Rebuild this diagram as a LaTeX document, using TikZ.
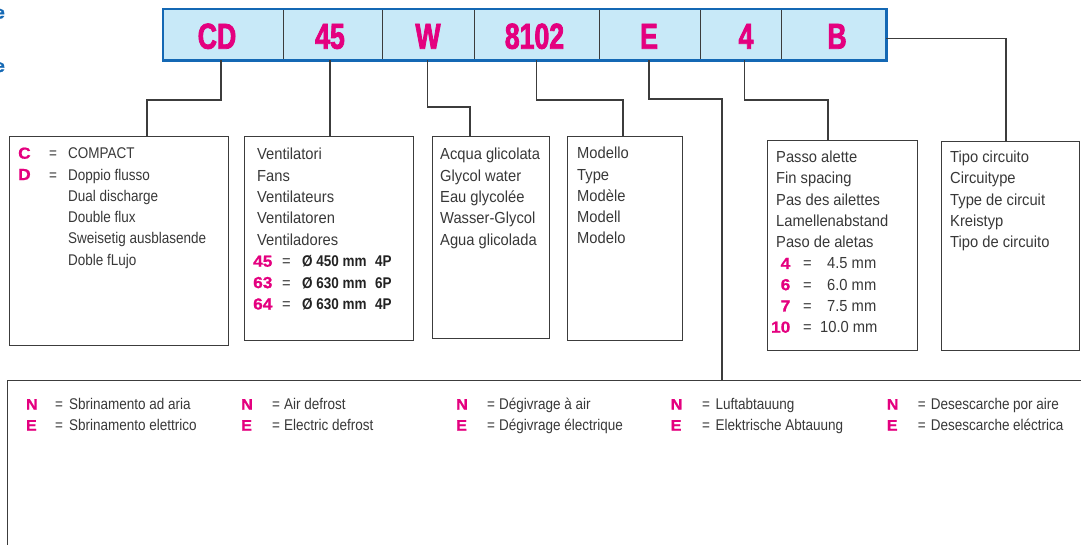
\documentclass[tikz,border=0pt]{standalone}
\usepackage{fontspec}
\setmainfont{Liberation Sans}
\newfontfamily\tfA[FakeStretch=0.92]{Liberation Sans}
\newfontfamily\tfB[FakeStretch=0.87]{Liberation Sans}
\newfontfamily\barfnt[FakeStretch=0.74,FakeBold=2.2]{Liberation Sans}
\newfontfamily\pkfnt[FakeStretch=1.08,FakeBold=1]{Liberation Sans}
\newfontfamily\fragfnt[FakeBold=1.5]{Liberation Sans}
\definecolor{pinkc}{HTML}{E4007F}
\definecolor{barfill}{HTML}{C8E9F8}
\definecolor{barblue}{HTML}{1468B4}
\definecolor{txt}{HTML}{383838}
\definecolor{spec}{HTML}{222222}
\definecolor{ln}{HTML}{3C3C3C}
\begin{document}
\begin{tikzpicture}[x=1pt,y=-1pt,
  cell/.style={draw=ln, line width=1.4pt, fill=barfill, anchor=north west, minimum height=50, inner sep=0, rectangle},
  barframe/.style={draw=barblue, line width=2.6pt},
  bartxt/.style={anchor=base, inner sep=0, text=pinkc, font=\barfnt\bfseries\fontsize{36}{36}\selectfont},
  box/.style={draw=ln, line width=1.4pt, rectangle, inner sep=0, anchor=north west},
  conn/.style={draw=ln, line width=1.2pt},
  ta/.style={anchor=base west, inner sep=0, text=txt, font=\tfA\fontsize{16}{16}\selectfont},
  tb/.style={anchor=base west, inner sep=0, text=txt, font=\tfB\fontsize{15.5}{16}\selectfont},
  sp/.style={anchor=base west, inner sep=0, text=spec, font=\tfB\bfseries\fontsize{15.5}{16}\selectfont},
  pk/.style={anchor=base west, inner sep=0, text=pinkc, font=\pkfnt\bfseries\fontsize{16}{16}\selectfont},
  pkr/.style={pk, anchor=base east},
  pkb/.style={pk, font=\pkfnt\bfseries\fontsize{15}{16}\selectfont},
  frag/.style={anchor=base east, inner sep=0, text=barblue, font=\fragfnt\bfseries\fontsize{18}{18}\selectfont}]
\useasboundingbox (0,0) rectangle (1081,544);

% cut-off fragments at the left edge
\node[frag] (f1) at (5,18.5) {e};
\node[frag] (f2) at (5,72) {e};

% code bar
\node[cell, minimum width=120] (cCD) at (163,9) {};
\node[cell, minimum width=99] (c45) at (283,9) {};
\node[cell, minimum width=92] (cW) at (382,9) {};
\node[cell, minimum width=125] (c8102) at (474,9) {};
\node[cell, minimum width=101] (cE) at (599,9) {};
\node[cell, minimum width=81] (c4) at (700,9) {};
\node[cell, minimum width=104] (cB) at (781,9) {};
\draw[barframe] (cCD.north west) rectangle (cB.south east);
\node[bartxt] (tCD) at (217,48.7) {CD};
\node[bartxt] (t45) at (330,48.7) {45};
\node[bartxt] (tW) at (428,48.7) {W};
\node[bartxt] (t8102) at (534.5,48.7) {8102};
\node[bartxt] (tE) at (649,48.7) {E};
\node[bartxt] (t4) at (746,48.7) {4};
\node[bartxt] (tB) at (837,48.7) {B};

% boxes
\node[box, minimum width=219, minimum height=209] (b1) at (9,136) {};
\node[box, minimum width=169, minimum height=204] (b2) at (244,136) {};
\node[box, minimum width=117, minimum height=202] (b3) at (432,136) {};
\node[box, minimum width=115, minimum height=204] (b4) at (567,136) {};
\node[box, minimum width=150, minimum height=210] (b5) at (767,140) {};
\node[box, minimum width=138, minimum height=209] (b6) at (941,141) {};
\node[box, minimum width=1100, minimum height=200] (b7) at (7,380) {};

% connectors
\coordinate (xCD) at (221,0);
\coordinate (eCD) at (147,100);
\coordinate (x45) at (330,0);
\coordinate (xW) at (427.5,0);
\coordinate (eW) at (470,107);
\coordinate (x81) at (536.7,0);
\coordinate (e81) at (623,100);
\coordinate (xE) at (649,0);
\coordinate (eE) at (722,99);
\coordinate (x4) at (744.7,0);
\coordinate (e4) at (828,100);
\coordinate (xB) at (1006,0);
\draw[conn] (cCD.south -| xCD) |- (eCD) -- (b1.north -| eCD);
\draw[conn] (c45.south -| x45) -- (b2.north -| x45);
\draw[conn] (cW.south -| xW) |- (eW) -- (b3.north -| eW);
\draw[conn] (c8102.south -| x81) |- (e81) -- (b4.north -| e81);
\draw[conn] (cE.south -| xE) |- (eE) -- (b7.north -| eE);
\draw[conn] (c4.south -| x4) |- (e4) -- (b5.north -| e4);
\draw[conn] ([yshift=-3.5pt]cB.east) -| (b6.north -| xB);

% box 1
\node[pk] (p1c) at (18,158.7) {C};
\node[tb] (q1c) at (49,158.7) {=};
\node[tb] (s1a) at (68,158.7) {COMPACT};
\node[pk] (p1d) at (18,180.0) {D};
\node[tb] (q1d) at (49,180.0) {=};
\node[tb] (s1b) at (68,180.0) {Doppio flusso};
\node[tb] (s1c) at (68,201.3) {Dual discharge};
\node[tb] (s1d) at (68,222.6) {Double flux};
\node[tb] (s1e) at (68,243.9) {Sweisetig ausblasende};
\node[tb] (s1f) at (68,265.2) {Doble fLujo};

% box 2
\node[ta] (s2a) at (257,159.7) {Ventilatori};
\node[ta] (s2b) at (257,181.1) {Fans};
\node[ta] (s2c) at (257,202.5) {Ventilateurs};
\node[ta] (s2d) at (257,223.9) {Ventilatoren};
\node[ta] (s2e) at (257,245.3) {Ventiladores};
\node[pk] (p2a) at (253,266.7) {45};
\node[ta] (q2a) at (282,266.7) {=};
\node[sp] (v2a) at (302,266.7) {Ø 450 mm};
\node[sp] (w2a) at (375,266.7) {4P};
\node[pk] (p2b) at (253,288.1) {63};
\node[ta] (q2b) at (282,288.1) {=};
\node[sp] (v2b) at (302,288.1) {Ø 630 mm};
\node[sp] (w2b) at (375,288.1) {6P};
\node[pk] (p2c) at (253,309.5) {64};
\node[ta] (q2c) at (282,309.5) {=};
\node[sp] (v2c) at (302,309.5) {Ø 630 mm};
\node[sp] (w2c) at (375,309.5) {4P};

% box 3
\node[ta] (s3a) at (440,159.7) {Acqua glicolata};
\node[ta] (s3b) at (440,181.1) {Glycol water};
\node[ta] (s3c) at (440,202.5) {Eau glycolée};
\node[ta] (s3d) at (440,223.9) {Wasser-Glycol};
\node[ta] (s3e) at (440,245.3) {Agua glicolada};

% box 4
\node[ta] (s4a) at (577,158.7) {Modello};
\node[ta] (s4b) at (577,180.0) {Type};
\node[ta] (s4c) at (577,201.3) {Modèle};
\node[ta] (s4d) at (577,222.6) {Modell};
\node[ta] (s4e) at (577,243.9) {Modelo};

% box 5
\node[ta] (s5a) at (776,162.7) {Passo alette};
\node[ta] (s5b) at (776,183.95) {Fin spacing};
\node[ta] (s5c) at (776,205.2) {Pas des ailettes};
\node[ta] (s5d) at (776,226.45) {Lamellenabstand};
\node[ta] (s5e) at (776,247.7) {Paso de aletas};
\node[pkr] (p5a) at (790.5,268.95) {4};
\node[ta] (q5a) at (803,268.95) {=};
\node[ta] (v5a) at (827,268.95) {4.5 mm};
\node[pkr] (p5b) at (790.5,290.2) {6};
\node[ta] (q5b) at (803,290.2) {=};
\node[ta] (v5b) at (827,290.2) {6.0 mm};
\node[pkr] (p5c) at (790.5,311.45) {7};
\node[ta] (q5c) at (803,311.45) {=};
\node[ta] (v5c) at (827,311.45) {7.5 mm};
\node[pkr] (p5d) at (790.5,332.7) {10};
\node[ta] (q5d) at (803,332.7) {=};
\node[ta] (v5d) at (820,332.7) {10.0 mm};

% box 6
\node[ta] (s6a) at (950,162.7) {Tipo circuito};
\node[ta] (s6b) at (950,183.95) {Circuitype};
\node[ta] (s6c) at (950,205.2) {Type de circuit};
\node[ta] (s6d) at (950,226.45) {Kreistyp};
\node[ta] (s6e) at (950,247.7) {Tipo de circuito};

% bottom box
\node[pkb] (n1) at (25.8,409.5) {N};
\node[tb] (qn1) at (55,409.5) {=};
\node[tb] (an1) at (69,409.5) {Sbrinamento ad aria};
\node[pkb] (e1) at (25.8,430.5) {E};
\node[tb] (qe1) at (55,430.5) {=};
\node[tb] (ae1) at (69,430.5) {Sbrinamento elettrico};

\node[pkb] (n2) at (241,409.5) {N};
\node[tb] (qn2) at (272,409.5) {=};
\node[tb] (an2) at (284,409.5) {Air defrost};
\node[pkb] (e2) at (241,430.5) {E};
\node[tb] (qe2) at (272,430.5) {=};
\node[tb] (ae2) at (284,430.5) {Electric defrost};

\node[pkb] (n3) at (456,409.5) {N};
\node[tb] (qn3) at (487,409.5) {=};
\node[tb] (an3) at (499,409.5) {Dégivrage à air};
\node[pkb] (e3) at (456,430.5) {E};
\node[tb] (qe3) at (487,430.5) {=};
\node[tb] (ae3) at (499,430.5) {Dégivrage électrique};

\node[pkb] (n4) at (670.5,409.5) {N};
\node[tb] (qn4) at (702,409.5) {=};
\node[tb] (an4) at (715.5,409.5) {Luftabtauung};
\node[pkb] (e4n) at (670.5,430.5) {E};
\node[tb] (qe4) at (702,430.5) {=};
\node[tb] (ae4) at (715.5,430.5) {Elektrische Abtauung};

\node[pkb] (n5) at (886.6,409.5) {N};
\node[tb] (qn5) at (917.6,409.5) {=};
\node[tb] (an5) at (930.6,409.5) {Desescarche por aire};
\node[pkb] (e5) at (886.6,430.5) {E};
\node[tb] (qe5) at (917.6,430.5) {=};
\node[tb] (ae5) at (930.6,430.5) {Desescarche eléctrica};
\end{tikzpicture}
\end{document}
